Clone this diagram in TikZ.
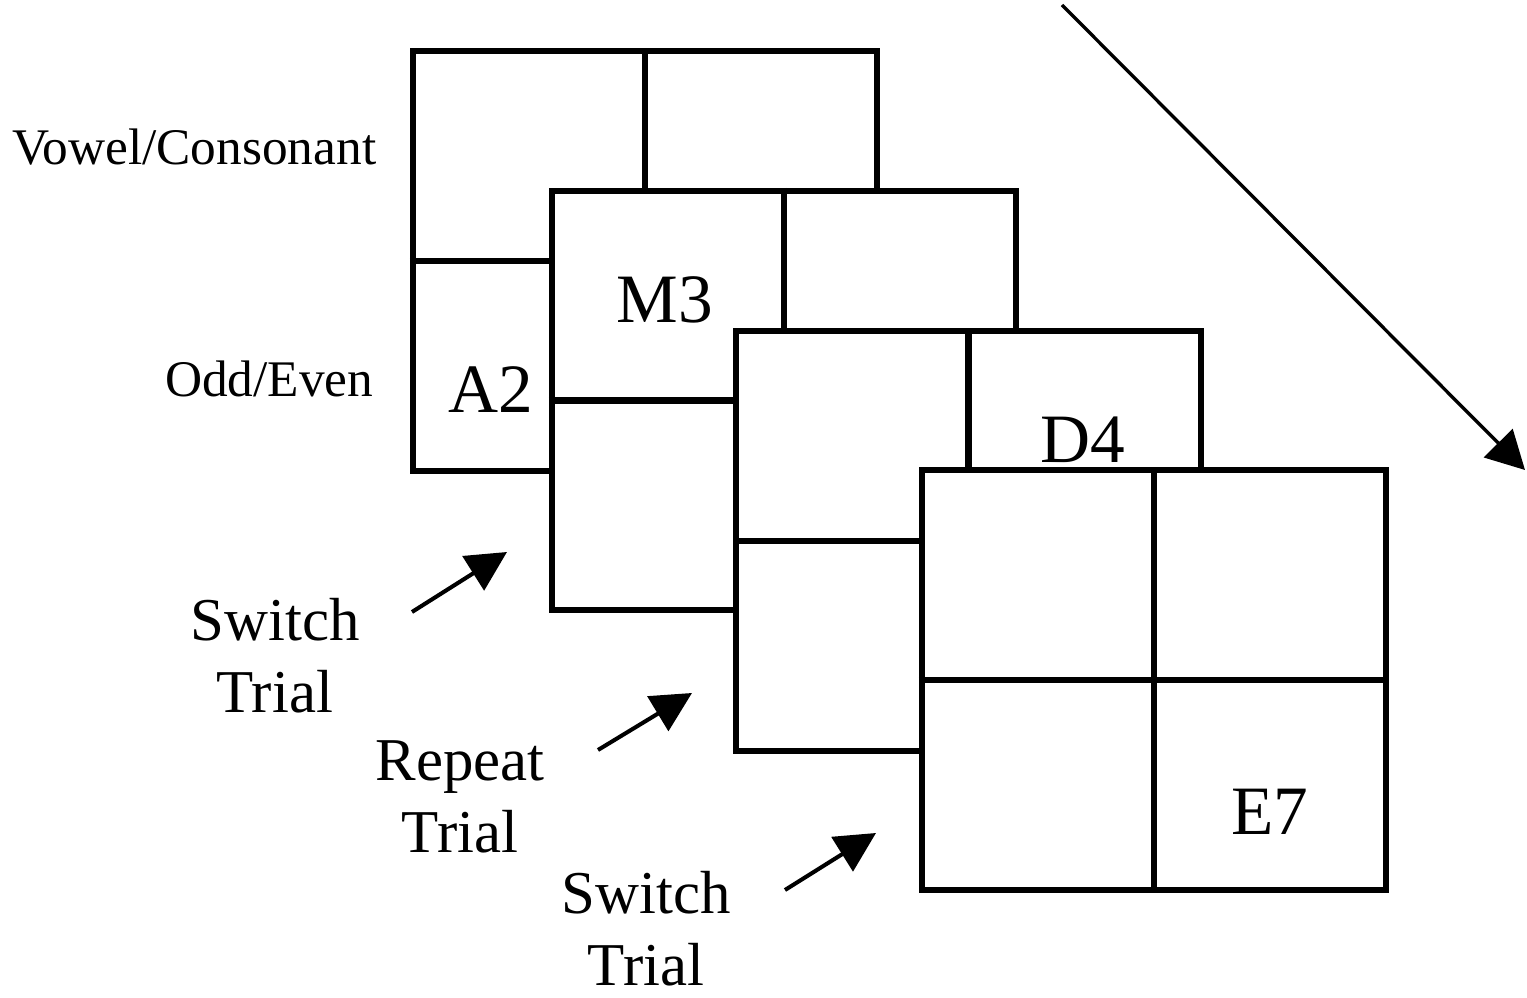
\documentclass[tikz,border=0pt]{standalone}
\usepackage{fontspec}
\setmainfont{Liberation Serif}
\usepackage{tikz}
\usetikzlibrary{arrows.meta,positioning}
\tikzset{
  panel/.style={draw, fill=white, line width=1.75pt, minimum width=4.64cm, minimum height=4.19cm, inner sep=0pt},
  divider/.style={line width=1.75pt},
  task/.style={font=\fontsize{14.6}{17}\selectfont, inner sep=0pt},
  trial/.style={font=\fontsize{17.3}{20.5}\selectfont, align=center, inner sep=0pt},
  cell/.style={font=\fontsize{19.7}{23}\selectfont, inner sep=0pt},
  arr/.style={-{Triangle[length=4mm,width=4mm]}, line width=1.15pt},
  timearr/.style={-{Triangle[length=3.8mm,width=4mm]}, line width=0.95pt}
}
\begin{document}
\begin{tikzpicture}[x=0.01cm, y=-0.01cm]
\useasboundingbox (0,0) rectangle (1527,998);
\foreach \n/\x/\y in {g1/645/261, g2/784/400.5, g3/968.5/541, g4/1154/680}{
  \node[panel] (\n) at (\x,\y) {};
  \draw[divider] (\n.north) -- (\n.south) (\n.west) -- (\n.east);
}
\node[cell, anchor=base] (a2) at (491,413) {A2};
\node[cell, anchor=base] (m3) at (665,323) {M3};
\node[cell, anchor=base] (d4) at (1083,463) {D4};
\node[cell, anchor=base] (e7) at (1270,835) {E7};
\node[task, anchor=base east] (vc) at (377,165) {Vowel/Consonant};
\node[task, anchor=base east] (oe) at (374,397) {Odd/Even};
\node[trial] (sw1) at (275,656) {Switch\\Trial};
\node[trial] (rep) at (460,797) {Repeat\\Trial};
\node[trial] (sw2) at (646,929) {Switch\\Trial};
\coordinate (s1) at (412,612);
\coordinate (t1) at (507,552);
\coordinate (s2) at (598,750);
\coordinate (t2) at (692,693);
\coordinate (s3) at (785,890);
\coordinate (t3) at (876,833);
\coordinate (start) at (1062,5);
\coordinate (stop) at (1525,470);
\draw[arr] (s1) -- (t1);
\draw[arr] (s2) -- (t2);
\draw[arr] (s3) -- (t3);
\draw[timearr] (start) -- (stop);
\end{tikzpicture}
\end{document}
